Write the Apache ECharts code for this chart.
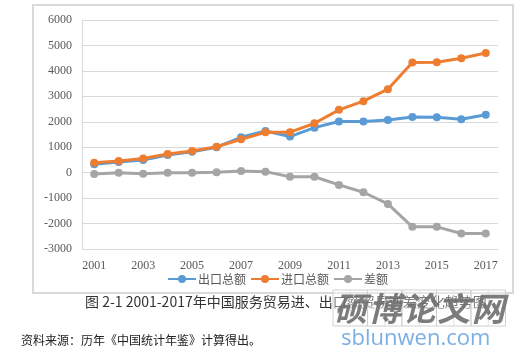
<!DOCTYPE html>
<html><head><meta charset="utf-8">
<script src="https://cdn.jsdelivr.net/npm/echarts@6/dist/echarts.min.js"></script>
<style>html,body{margin:0;padding:0;background:#fff}#c{width:522px;height:360px}</style>
</head><body><div id="c"></div>
<script>
const years = ['2001','2002','2003','2004','2005','2006','2007','2008','2009','2010','2011','2012','2013','2014','2015','2016','2017'];
const exportTotal = [330, 420, 500, 690, 820, 1000, 1390, 1640, 1420, 1770, 2010, 2010, 2070, 2190, 2180, 2100, 2280];
const importTotal = [390, 460, 560, 730, 850, 1020, 1310, 1590, 1590, 1940, 2470, 2810, 3280, 4330, 4340, 4500, 4700];
const balance = [-50, 0, -40, 0, 0, 20, 70, 40, -160, -160, -480, -770, -1230, -2130, -2130, -2390, -2390];
const seriesNames = ['出口总额', '进口总额', '差额'];
const colors = ['#5B9BD5', '#ED7D31', '#A5A5A5'];
const caption = '图 2-1 2001-2017年中国服务贸易进、出口额贸易逆差变化趋势图';
const source = '资料来源：历年《中国统计年鉴》计算得出。';
const watermarkChars = ['硕', '博', '论', '文', '网'];
const watermarkUrl = 'sblunwen.com';

const chart = echarts.init(document.getElementById('c'));
const serif = '"Liberation Serif", "Noto Sans CJK SC", serif';
const cjk = '"Noto Sans CJK SC", sans-serif';
function mk(name, data, i) {
  return {
    name, type: 'line', data, symbol: 'circle', symbolSize: 8,
    lineStyle: { width: 3, color: colors[i] },
    itemStyle: { color: colors[i] },
    z: 3 + (i === 1 ? 1 : 0)
  };
}
const graphics = [
  { type: 'rect', shape: { x: 33, y: 5, width: 480, height: 288 }, style: { fill: 'none', stroke: '#d9d9d9', lineWidth: 2 }, z: -1 },
  { type: 'text', left: 85, top: 295, style: { text: caption, font: '14px "Noto Sans CJK SC", sans-serif', fill: '#333' } },
  { type: 'text', left: 21, top: 334, style: { text: source, font: '12px "Noto Sans CJK SC", sans-serif', fill: '#222' } },
  { type: 'text', left: 341, top: 328, style: { text: watermarkUrl, font: '22px "Open Sans", sans-serif', fill: 'rgba(100,160,224,0.85)' }, z: 10 }
];
watermarkChars.forEach((ch, k) => {
  const x0 = 333 + k * 34.5, y0 = 290, w = 34.5, h = 36;
  graphics.push({ type: 'rect', shape: { x: x0, y: y0, width: w, height: h }, style: { fill: 'rgba(255,255,255,0.35)', stroke: '#d0d0d0', lineWidth: 1 }, z: 9 });
  graphics.push({ type: 'line', shape: { x1: x0 + w / 2, y1: y0, x2: x0 + w / 2, y2: y0 + h }, style: { stroke: '#e0e0e0', lineWidth: 1 }, z: 9 });
  graphics.push({ type: 'line', shape: { x1: x0, y1: y0 + h / 2, x2: x0 + w, y2: y0 + h / 2 }, style: { stroke: '#e0e0e0', lineWidth: 1 }, z: 9 });
  graphics.push({ type: 'text', x: x0 + w / 2, y: y0 + h / 2, style: { text: ch, font: 'bold italic 33px "Noto Sans CJK SC", sans-serif', fill: 'rgba(110,110,110,0.9)', textAlign: 'center', textVerticalAlign: 'middle' }, z: 10 });
});
chart.setOption({
  animation: false,
  grid: { left: 82, right: 24, top: 20, bottom: 111 },
  legend: {
    top: 268, left: 162, itemWidth: 28, itemHeight: 10, itemGap: 4,
    data: seriesNames,
    textStyle: { fontFamily: cjk, fontSize: 12, color: '#595959', padding: [0, 0, 0, -3] }
  },
  xAxis: {
    type: 'category', data: years, boundaryGap: true,
    axisLine: { onZero: true, lineStyle: { color: '#d9d9d9' } },
    axisTick: { show: false },
    axisLabel: { interval: 1, margin: 11, fontFamily: serif, fontSize: 12, color: '#595959' }
  },
  yAxis: {
    type: 'value', min: -3000, max: 6000, interval: 1000,
    axisLine: { show: true, lineStyle: { color: '#d9d9d9' } },
    axisTick: { show: false },
    splitLine: { lineStyle: { color: '#d9d9d9', width: 1 } },
    axisLabel: { margin: 10, fontFamily: serif, fontSize: 12, color: '#595959', formatter: v => String(v) }
  },
  series: [mk(seriesNames[0], exportTotal, 0), mk(seriesNames[1], importTotal, 1), mk(seriesNames[2], balance, 2)],
  graphic: graphics
});
</script></body></html>
